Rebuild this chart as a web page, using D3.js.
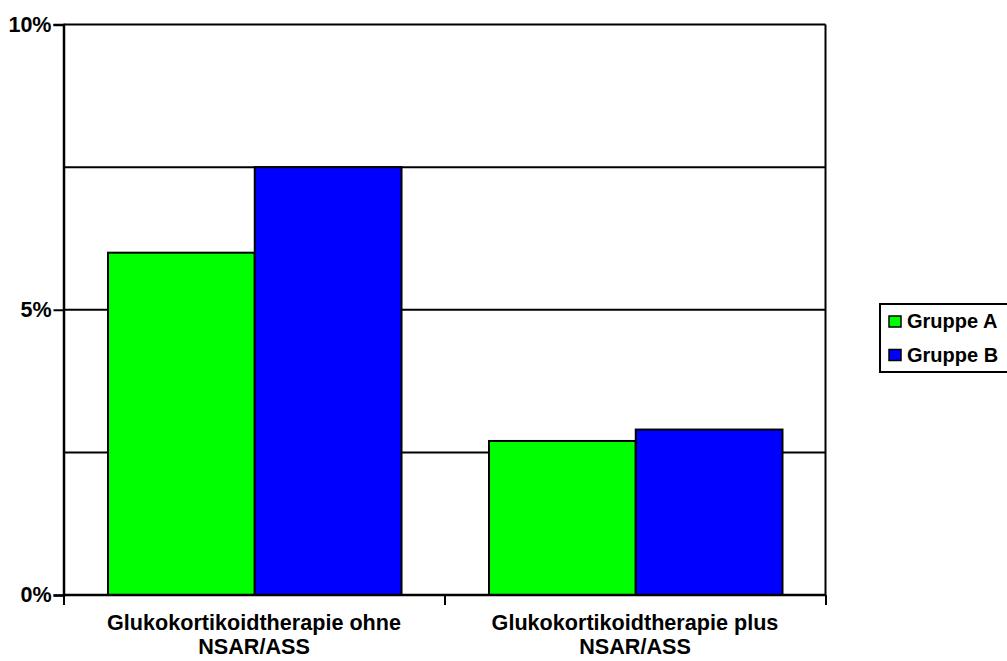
<!DOCTYPE html>
<html>
<head>
<meta charset="utf-8">
<script src="https://cdn.jsdelivr.net/npm/d3@7"></script>
<style>
  html, body { margin: 0; padding: 0; background: #fff; }
  svg { display: block; }
  text { font-family: "Liberation Sans", Arial, sans-serif; font-weight: bold; fill: #000; }
</style>
</head>
<body>
<svg id="chart" width="1007" height="661"></svg>
<script>
// Data
const categories = [
  ["Glukokortikoidtherapie ohne", "NSAR/ASS"],
  ["Glukokortikoidtherapie plus", "NSAR/ASS"]
];
const seriesNames = ["Gruppe A", "Gruppe B"];
const seriesColors = ["#00ff00", "#0000ff"];
const gruppeA = [6.0, 2.7];
const gruppeB = [7.5, 2.9];
const gridValues = [2.5, 5, 7.5, 10];
const tickValues = [0, 5, 10];

const svg = d3.select("#chart");
const margin = { left: 63.5, top: 24.5, right: 1007 - 825.5, bottom: 661 - 595 };
const W = 1007 - margin.left - margin.right;
const H = 661 - margin.top - margin.bottom;

const g = svg.append("g").attr("transform", `translate(${margin.left},${margin.top})`);

const x0 = d3.scaleBand().domain(d3.range(categories.length)).range([0, W]).paddingInner(0).paddingOuter(0);
const x1 = d3.scaleBand().domain(d3.range(seriesNames.length)).range([44.5, x0.bandwidth() - 43]).padding(0);
const y = d3.scaleLinear().domain([0, 10]).range([H, 0]);

// Horizontal gridlines
g.selectAll("line.grid").data(gridValues).join("line")
  .attr("class", "grid")
  .attr("x1", 0).attr("x2", W)
  .attr("y1", d => y(d)).attr("y2", d => y(d))
  .attr("stroke", "#000").attr("stroke-width", 2);

// Right border
g.append("line").attr("x1", W).attr("x2", W).attr("y1", 0).attr("y2", H)
  .attr("stroke", "#000").attr("stroke-width", 2);

// Bars
const values = [gruppeA, gruppeB];
categories.forEach((c, ci) => {
  const grp = g.append("g").attr("transform", `translate(${x0(ci)},0)`);
  values.forEach((vals, si) => {
    grp.append("rect")
      .attr("x", x1(si))
      .attr("y", y(vals[ci]))
      .attr("width", x1.bandwidth())
      .attr("height", H - y(vals[ci]))
      .attr("fill", seriesColors[si])
      .attr("stroke", "#000")
      .attr("stroke-width", 2);
  });
});

// Y axis
const yAxis = d3.axisLeft(y).tickValues(tickValues).tickFormat(d => d + "%").tickSize(10).tickPadding(2);
const ya = g.append("g").call(yAxis);
ya.select(".domain").attr("stroke-width", 2.5);
ya.selectAll(".tick line").attr("stroke-width", 2);
ya.selectAll(".tick text")
  .style("font-size", "21.5px")
  .style("font-family", "'Liberation Sans', Arial, sans-serif")
  .style("font-weight", "bold");

// X axis
const xAxis = d3.axisBottom(d3.scaleLinear().domain([0, categories.length]).range([0, W]))
  .tickValues(d3.range(categories.length + 1)).tickSize(10).tickFormat("");
const xa = g.append("g").attr("transform", `translate(0,${H})`).call(xAxis);
xa.select(".domain").attr("stroke-width", 2.5).attr("d", `M0,0H${W}`);
xa.selectAll(".tick line").attr("stroke-width", 2);

// Category labels
categories.forEach((lines, ci) => {
  const cx = x0(ci) + x0.bandwidth() / 2;
  const t = g.append("text")
    .attr("x", cx)
    .attr("y", H + 35)
    .attr("text-anchor", "middle")
    .style("font-size", "21.6px");
  lines.forEach((ln, li) => {
    t.append("tspan").attr("x", cx).attr("dy", li === 0 ? 0 : 24).text(ln);
  });
});

// Legend
const legend = svg.append("g").attr("transform", "translate(880,304)");
legend.append("rect").attr("x", 0).attr("y", 0).attr("width", 140).attr("height", 68)
  .attr("fill", "#fff").attr("stroke", "#000").attr("stroke-width", 2);
seriesNames.forEach((name, i) => {
  const top = 12 + i * 33.5;
  legend.append("rect").attr("x", 9).attr("y", top).attr("width", 12).attr("height", 11)
    .attr("fill", seriesColors[i]).attr("stroke", "#000").attr("stroke-width", 1.5);
  legend.append("text").attr("x", 27).attr("y", top + 12).style("font-size", "20px").text(name);
});
</script>
</body>
</html>
